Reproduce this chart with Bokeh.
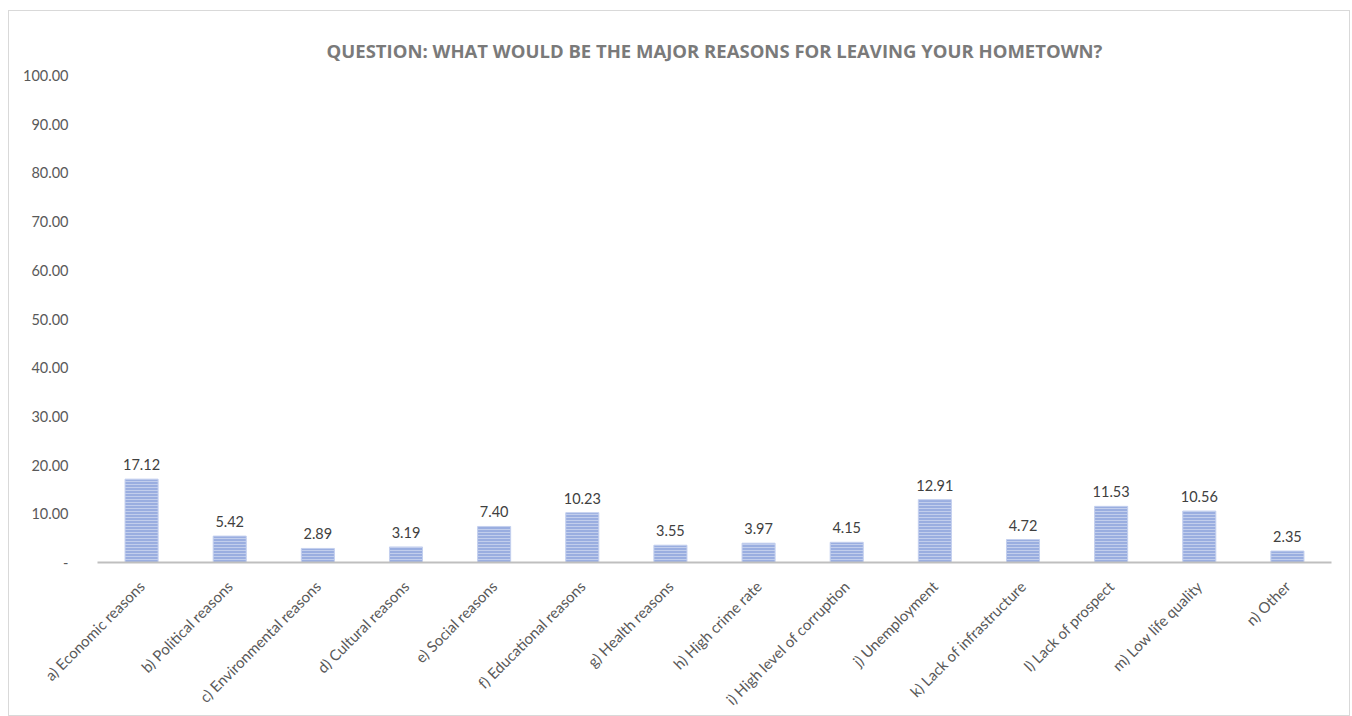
import math
from bokeh.plotting import figure
from bokeh.models import ColumnDataSource, LabelSet, Range1d, FixedTicker, NumeralTickFormatter
from bokeh.core.properties import value
from bokeh.embed import file_html
from bokeh.resources import INLINE

categories = ["a) Economic reasons", "b) Political reasons", "c) Environmental reasons",
              "d) Cultural reasons", "e) Social reasons", "f) Educational reasons",
              "g) Health reasons", "h) High crime rate", "i) High level of corruption",
              "j) Unemployment", "k) Lack of infrastructure", "l) Lack of prospect",
              "m) Low life quality", "n) Other"]
values = [17.12, 5.42, 2.89, 3.19, 7.40, 10.23, 3.55, 3.97, 4.15, 12.91, 4.72, 11.53, 10.56, 2.35]
value_labels = ["%.2f" % v for v in values]
y_ticks = [0, 10, 20, 30, 40, 50, 60, 70, 80, 90, 100]

src = ColumnDataSource(dict(cat=categories, val=values, lab=value_labels))

FONT = "Lato"

p = figure(x_range=categories, y_range=Range1d(0, 100),
           width=1342, height=706, output_backend="svg", toolbar_location=None,
           min_border_left=88, min_border_right=20, min_border_top=64, min_border_bottom=150,
           margin=(10, 0, 0, 8))
p.styles = {"border": "1px solid #d9d9d9", "box-sizing": "border-box"}

p.title.text = "QUESTION: WHAT WOULD BE THE MAJOR REASONS FOR LEAVING YOUR HOMETOWN?"
p.title.align = "center"
p.title.text_font = "Open Sans"
p.title.text_font_size = "18.5px"
p.title.text_font_style = "bold"
p.title.text_color = "#7a7a7a"
p.title.standoff = 26
p.title.text_line_height = 0.4

p.vbar(x="cat", top="val", width=0.375, source=src,
       fill_color="#9aaee0", line_color="#c3cfee", line_width=1,
       hatch_pattern="horizontal_line", hatch_color="white", hatch_alpha=0.4,
       hatch_scale=3, hatch_weight=1)

labels = LabelSet(x="cat", y="val", text="lab", source=src, text_align="center",
                  text_baseline="bottom", y_offset=9, text_font=value(FONT),
                  text_font_size="14.5px", text_color="#404040")
p.add_layout(labels)

p.xgrid.grid_line_color = None
p.ygrid.grid_line_color = None
p.outline_line_color = None

p.yaxis.ticker = FixedTicker(ticks=y_ticks)
p.yaxis.formatter = NumeralTickFormatter(format="0.00")
p.yaxis.major_label_overrides = {0: "-"}
p.yaxis.axis_line_color = None
p.yaxis.major_tick_line_color = None
p.yaxis.minor_tick_line_color = None
p.yaxis.major_label_standoff = 23
p.yaxis.major_label_text_font = FONT
p.yaxis.major_label_text_font_size = "14.5px"
p.yaxis.major_label_text_color = "#595959"

p.xaxis.axis_line_color = "#bfbfbf"
p.xaxis.axis_line_width = 2
p.xaxis.major_tick_line_color = None
p.xaxis.minor_tick_line_color = None
p.xaxis.major_label_orientation = math.pi / 4
p.xaxis.major_label_standoff = 15
p.xaxis.major_label_text_font = FONT
p.xaxis.major_label_text_font_size = "15px"
p.xaxis.major_label_text_color = "#595959"

open("out.html", "w").write(file_html(p, INLINE))
